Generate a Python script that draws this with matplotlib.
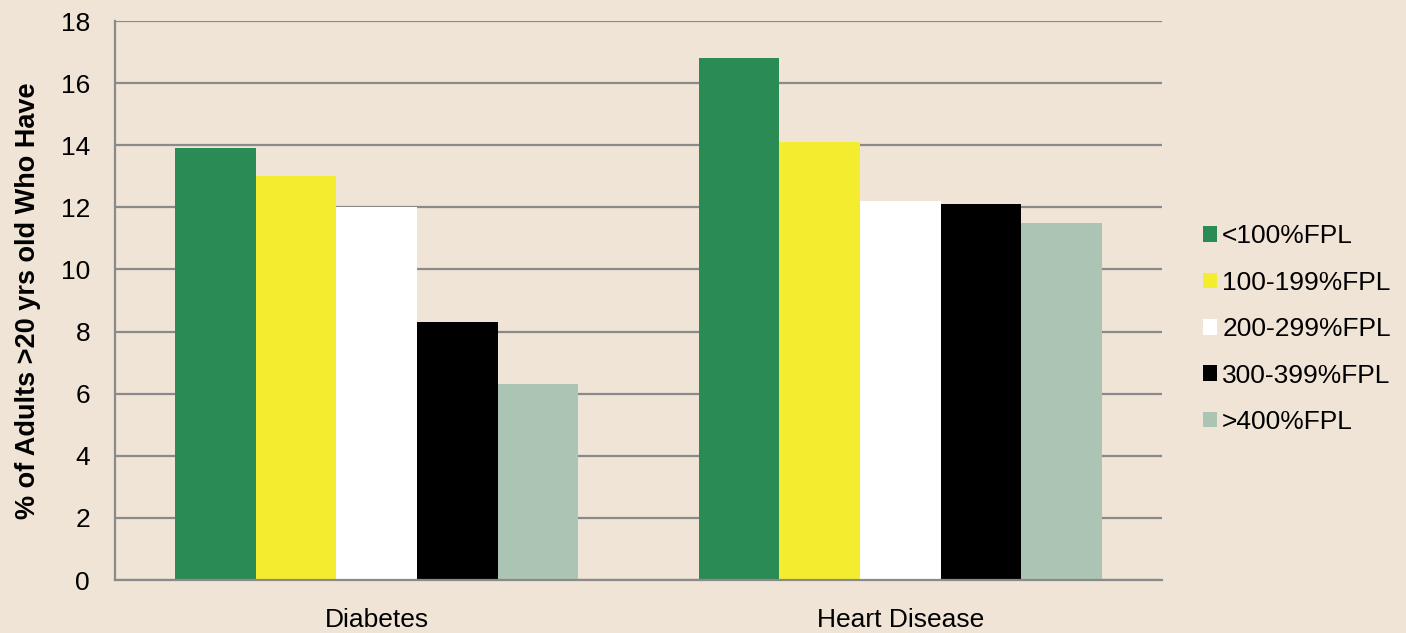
import numpy as np
import matplotlib.pyplot as plt
from matplotlib.patches import Patch

plt.rcParams['font.family'] = ['Liberation Sans', 'DejaVu Sans']

# Share of adults with each condition, by income as % of federal poverty level
conditions = ['Diabetes', 'Heart Disease']
income_groups = ['<100%FPL', '100-199%FPL', '200-299%FPL', '300-399%FPL', '>400%FPL']
below_100 = [13.9, 16.8]
fpl_100_199 = [13.0, 14.1]
fpl_200_299 = [12.0, 12.2]
fpl_300_399 = [8.3, 12.1]
above_400 = [6.3, 11.5]
series = [below_100, fpl_100_199, fpl_200_299, fpl_300_399, above_400]
colors = ['#2a8b55', '#f4ec2e', '#ffffff', '#000000', '#abc4b3']

fig = plt.figure(figsize=(14.06, 6.33), dpi=100, facecolor='#efe4d6')
ax = fig.add_axes([0.0818, 0.0837, 0.7447, 0.8831])
ax.set_facecolor('none')

x = np.arange(len(conditions))
width = 0.154
for i, (vals, c) in enumerate(zip(series, colors)):
    ax.bar(x + (i - 2) * width, vals, width, color=c, zorder=3)

ax.set_xlim(-0.5, 1.5)
ax.set_ylim(0, 18)
ax.set_yticks(range(0, 19, 2))
ax.set_xticks(x)
ax.set_xticklabels(conditions)
ax.tick_params(axis='both', length=0, labelsize=19)
ax.tick_params(axis='y', pad=18)
ax.tick_params(axis='x', pad=20.5)
ax.yaxis.grid(True, color='#8a8a8a', linewidth=1.6, zorder=1)
for s in ['top', 'right']:
    ax.spines[s].set_visible(False)
for s in ['left', 'bottom']:
    ax.spines[s].set_color('#8a8a8a')
    ax.spines[s].set_linewidth(1.6)
    ax.spines[s].set_zorder(4)

ax.set_ylabel('% of Adults >20 yrs old Who Have', fontsize=19.5, fontweight='bold', labelpad=14)

handles = [Patch(facecolor=c, edgecolor='none') for c in colors]
fig.legend(handles, income_groups, loc='center left', bbox_to_anchor=(0.8556, 0.480),
           frameon=False, fontsize=19, handlelength=0.53, handleheight=0.53,
           handletextpad=0.2, labelspacing=0.85, borderaxespad=0, borderpad=0)

fig.savefig('out.png', dpi=100, facecolor=fig.get_facecolor())
